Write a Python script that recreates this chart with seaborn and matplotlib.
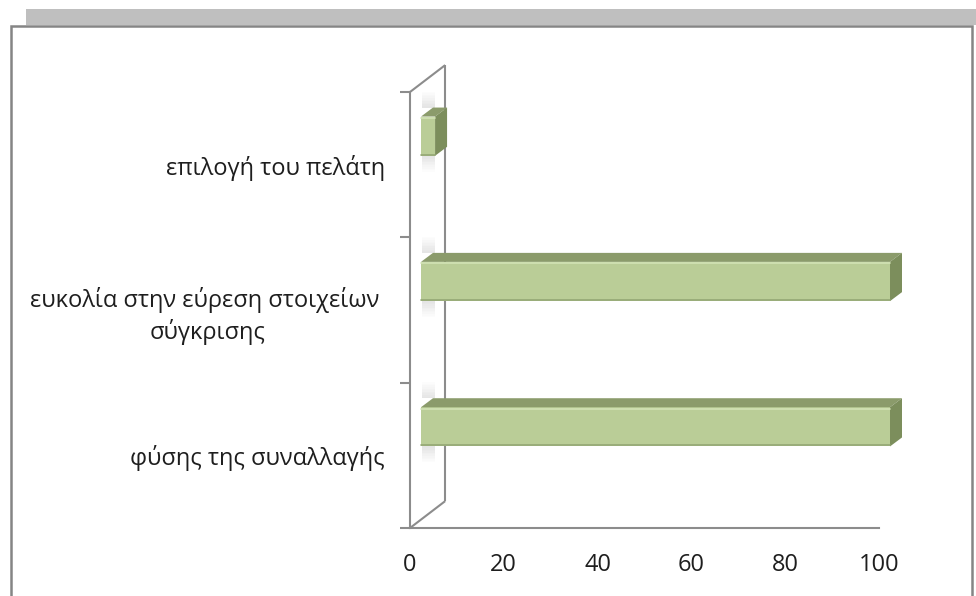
import numpy as np
import pandas as pd
import matplotlib
matplotlib.use("Agg")
import matplotlib.pyplot as plt
import seaborn as sns
from matplotlib.patches import Polygon, Rectangle
from matplotlib.lines import Line2D
from matplotlib.transforms import ScaledTranslation, IdentityTransform

# ---- data ----
categories = [
    "επιλογή του πελάτη",
    "ευκολία στην εύρεση στοιχείων \nσύγκρισης",
    "φύσης της συναλλαγής",
]
values = [3, 100, 100]
x_ticks = [0, 20, 40, 60, 80, 100]

# ---- style ----
sns.set_theme(style="white")
plt.rcParams["font.family"] = ["Open Sans", "DejaVu Sans"]

W, H, DPI = 976, 596, 100
AXIS_GREY = "#8C8C8C"
FRONT = "#BACD97"
TOP = "#8B9B6B"
SIDE = "#7C8E5C"
TEXT = "#1E1E1E"
FS = 17

fig = plt.figure(figsize=(W / DPI, H / DPI), dpi=DPI)
fig.patch.set_facecolor("white")


def fx(px):
    return px / W


def fy(py):
    return 1 - py / H


# outer frame with grey band above it
fig.add_artist(Rectangle((fx(26), fy(25)), fx(976) - fx(26), fy(9) - fy(25),
                         transform=fig.transFigure, facecolor="#BFBFBF",
                         edgecolor="none", zorder=0))
fig.add_artist(Line2D([fx(11), fx(11), fx(972), fx(972)],
                      [fy(600), fy(26), fy(26), fy(600)],
                      transform=fig.transFigure, color="#858585", lw=1.8,
                      solid_joinstyle="miter", zorder=1))

ax = fig.add_axes([fx(410), fy(528), fx(879) - fx(410), fy(92) - fy(528)])
ax.set_facecolor("none")

df = pd.DataFrame({"category": categories, "value": values})
sns.barplot(data=df, y="category", x="value", orient="h", color=FRONT,
            saturation=1, width=0.27, ax=ax, linewidth=0, zorder=3)

ax.set_xlim(0, 100)
ax.set_ylim(2.5, -0.5)
ax.set_xlabel("")
ax.set_ylabel("")

# axes lines and ticks
for s in ("top", "right"):
    ax.spines[s].set_visible(False)
for s in ("left", "bottom"):
    ax.spines[s].set_color(AXIS_GREY)
    ax.spines[s].set_linewidth(1.5)

ax.set_xticks(x_ticks)
ax.tick_params(axis="x", which="major", direction="out", length=5, width=1.5,
               color=AXIS_GREY, pad=13, labelsize=FS, labelcolor=TEXT)
ax.set_yticks([-0.5, 0.5, 1.5, 2.5], minor=True)
ax.tick_params(axis="y", which="minor", direction="out", length=7, width=1.5,
               color=AXIS_GREY, left=True)
ax.tick_params(axis="y", which="major", length=0, pad=18, labelsize=FS,
               labelcolor=TEXT)
for lbl in ax.get_yticklabels():
    lbl.set_multialignment("center")
    lbl.set_linespacing(1.3)

# side wall of the 3-D frame
DX, DY = 7.5, 0.185
wall = dict(color=AXIS_GREY, lw=1.5, clip_on=False, zorder=2,
            solid_capstyle="butt")
ax.plot([0, DX], [-0.5, -0.5 - DY], **wall)
ax.plot([DX, DX], [-0.5 - DY, 2.5 - DY], **wall)
ax.plot([0, DX], [2.5, 2.5 - DY], **wall)

# bars sit inside the depth of the frame: shift the front faces
shift = ax.transData + ScaledTranslation(11 / DPI, 28.5 / DPI, fig.dpi_scale_trans)
fig.canvas.draw()

BAR_DX, BAR_DY = 12, 9  # depth of each bar, pixels
pix = IdentityTransform()
for p in list(ax.patches):
    p.set_transform(shift)
    p.set_clip_on(False)
    x0, y0 = p.get_x(), p.get_y()
    x1, y1 = x0 + p.get_width(), y0 + p.get_height()
    (ax0, ay_top), (ax1, ay_bot) = shift.transform([(x0, y0), (x1, y1)])

    # soft shadow cast on the wall above and below the start of the bar
    n = 10
    for k in range(n):
        a = 0.16 * (1 - k / n)
        ax.add_artist(Rectangle((ax0 + 1, ay_top + BAR_DY + k * 1.6), 13, 1.6,
                                transform=pix, facecolor="#606060", alpha=a,
                                edgecolor="none", clip_on=False, zorder=2.5))
        ax.add_artist(Rectangle((ax0 + 1, ay_bot - (k + 1) * 1.6), 13, 1.6,
                                transform=pix, facecolor="#606060", alpha=a,
                                edgecolor="none", clip_on=False, zorder=2.5))

    top = Polygon([(ax0, ay_top), (ax1, ay_top),
                   (ax1 + BAR_DX, ay_top + BAR_DY), (ax0 + BAR_DX, ay_top + BAR_DY)],
                  closed=True, transform=pix, facecolor=TOP,
                  edgecolor="none", clip_on=False, zorder=3)
    side = Polygon([(ax1, ay_top), (ax1 + BAR_DX, ay_top + BAR_DY),
                    (ax1 + BAR_DX, ay_bot + BAR_DY), (ax1, ay_bot)],
                   closed=True, transform=pix, facecolor=SIDE,
                   edgecolor="none", clip_on=False, zorder=3)
    ax.add_artist(top)
    ax.add_artist(side)
    # light rim along the upper edge and a darker one along the lower edge
    ax.add_artist(Line2D([ax0, ax1], [ay_top - 1.5, ay_top - 1.5],
                         transform=pix, color="#D2E2B4",
                         lw=1.2, clip_on=False, zorder=4))
    ax.add_artist(Line2D([ax0, ax1], [ay_bot + 1, ay_bot + 1],
                         transform=pix, color="#94A775",
                         lw=1.2, clip_on=False, zorder=4))

fig.savefig("out.png", dpi=DPI, facecolor="white")
